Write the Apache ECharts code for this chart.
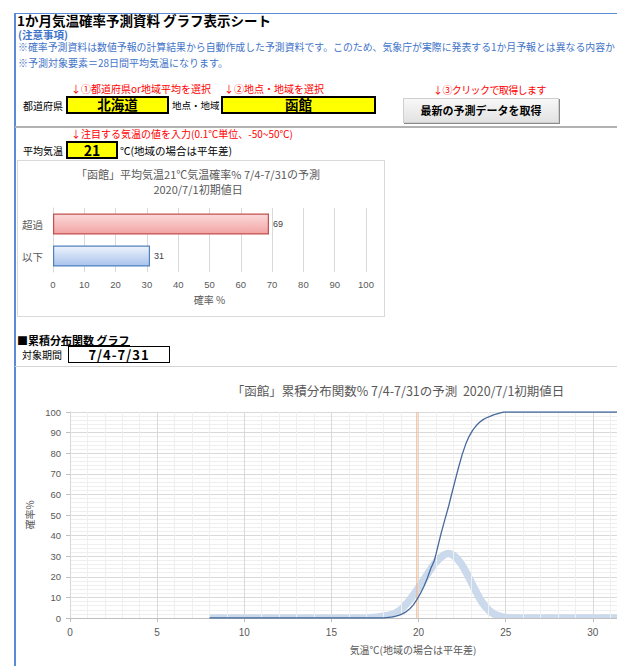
<!DOCTYPE html>
<html lang="ja">
<head>
<meta charset="utf-8">
<title>1か月気温確率予測資料 グラフ表示シート</title>
<script src="https://cdn.jsdelivr.net/npm/echarts@6/dist/echarts.min.js"></script>
<style>
  html, body { margin: 0; padding: 0; background: #fff; }
  #sheet { position: relative; width: 617px; height: 666px; overflow: hidden;
           font-family: "Noto Sans CJK JP", "Noto Sans", sans-serif; color: #000; }
  .t { position: absolute; white-space: nowrap; line-height: 1; transform: translateY(-50%); }
  .ln { position: absolute; }
  .ybox { position: absolute; box-sizing: border-box; background: #ffff00; border: 2px solid #000;
          display: flex; align-items: center; justify-content: center; font-weight: bold; line-height: 1; }
  .btn { position: absolute; box-sizing: border-box; display: flex; align-items: center; justify-content: center;
         background: linear-gradient(#f8f8f8, #e2e2e2); border: 1px solid #cfcfcf;
         box-shadow: 1px 1px 0 #8a8a8a; font-weight: bold; font-size: 11px; line-height: 1; }
  .blue { color: #3f74c8; }
  .red { color: #ff0000; font-size: 10px; }
  #barChart { position: absolute; left: 17px; top: 160px; width: 368px; height: 157px; }
  #barFrame { position: absolute; left: 17px; top: 160px; width: 368px; height: 157px;
              box-sizing: border-box; border: 1px solid #d9d9d9; pointer-events: none; }
  #cdfChart { position: absolute; left: 0; top: 370px; width: 617px; height: 296px; }
</style>
</head>
<body>
<div id="sheet">
  <!-- sheet frame -->
  <div class="ln" style="left:14px;top:13px;width:603px;height:1px;background:#5b8bd6"></div>
  <div class="ln" style="left:14px;top:13px;width:2px;height:653px;background:#5b8bd6"></div>

  <!-- header -->
  <div class="t" style="left:17px;top:21px;font-size:13.5px;font-weight:bold;">1か月気温確率予測資料 グラフ表示シート</div>
  <div class="t blue" style="left:18px;top:35px;font-size:10.5px;font-weight:bold;">(注意事項)</div>
  <div class="t blue" style="left:18px;top:48px;font-size:9.9px;">※確率予測資料は数値予報の計算結果から自動作成した予測資料です。このため、気象庁が実際に発表する1か月予報とは異なる内容か</div>
  <div class="t blue" style="left:18px;top:63px;font-size:10px;">※予測対象要素＝28日間平均気温になります。</div>

  <!-- selectors -->
  <div class="t red" style="left:71px;top:89px;">↓①都道府県or地域平均を選択</div>
  <div class="t red" style="left:224px;top:89px;">↓②地点・地域を選択</div>
  <div class="t red" style="left:433px;top:90px;letter-spacing:-0.6px;">↓③クリックで取得します</div>
  <div class="t" style="left:23px;top:106px;font-size:10px;">都道府県</div>
  <div class="ybox" style="left:66px;top:96px;width:103px;height:18px;font-size:13.5px;">北海道</div>
  <div class="t" style="left:172px;top:106px;font-size:9.5px;">地点・地域</div>
  <div class="ybox" style="left:221px;top:96px;width:155px;height:18px;font-size:13.5px;">函館</div>
  <div class="btn" style="left:403px;top:98px;width:156px;height:25px;">最新の予測データを取得</div>
  <div class="ln" style="left:15px;top:126px;width:602px;height:2px;background:#b2b2b2"></div>

  <!-- threshold input -->
  <div class="t red" style="left:71px;top:134px;">↓注目する気温の値を入力(0.1℃単位、-50~50℃)</div>
  <div class="t" style="left:23px;top:151px;font-size:10px;">平均気温</div>
  <div class="ybox" style="left:66px;top:141px;width:52px;height:18px;font-size:14px;">21</div>
  <div class="t" style="left:120px;top:151px;font-size:10.5px;">℃(地域の場合は平年差)</div>

  <!-- probability bar chart -->
  <div id="barChart"></div>
  <div id="barFrame"></div>

  <!-- cumulative distribution section -->
  <div class="t" style="left:17px;top:340px;font-size:11px;font-weight:bold;">■累積分布関数 グラフ</div>
  <div class="ln" style="left:61px;top:345px;width:69px;height:1px;background:#000"></div>
  <div class="t" style="left:22px;top:355px;font-size:10px;">対象期間</div>
  <div class="ybox" style="left:68px;top:346px;width:102px;height:17px;background:#fff;border:1px solid #000;font-size:13px;letter-spacing:1px;">7/4-7/31</div>
  <div class="ln" style="left:15px;top:366px;width:602px;height:1px;background:#d4d4d4"></div>

  <div id="cdfChart"></div>
</div>

<script>
// ---- probability of exceeding / not exceeding the chosen temperature ----
const barCategories = ['以下', '超過'];
const barValues = [31, 69];

// ---- cumulative distribution (%) of 28-day mean temperature ----
const cdfTemps = [8.0, 18.0, 18.3, 18.5, 18.7, 18.9, 19.1, 19.3, 19.5, 19.7, 19.9, 20.1, 20.3, 20.5, 20.7,
                  20.9, 21.0, 21.1, 21.3, 21.5, 21.7, 21.9, 22.1, 22.3, 22.5, 22.7, 22.9, 23.1, 23.3, 23.5,
                  23.7, 23.9, 24.1, 24.3, 24.5, 24.7, 24.9, 35.0];
const cdfProbs = [0, 0, 0.3, 0.5, 0.9, 1.4, 2.1, 3.1, 4.5, 6.4, 8.9, 11.8, 15.2, 19.3, 24.0,
                  27.8, 31.0, 34.5, 41.3, 47.5, 53.5, 60.2, 66.8, 73.3, 79.3, 84.3, 88.2, 91.1, 93.3, 95.0,
                  96.3, 97.2, 97.9, 98.6, 99.1, 99.6, 100, 100];

// ---- frequency distribution (%) drawn as the broad pale curve ----
const pdfTemps = [8.0, 17.0, 17.4, 17.8, 18.2, 18.6, 19.0, 19.4, 19.8, 20.2, 20.6, 21.0, 21.4, 21.7,
                  22.0, 22.4, 22.8, 23.2, 23.6, 24.0, 24.4, 24.8, 25.2, 25.6, 35.0];
const pdfProbs = [0, 0, 0.2, 0.6, 1.1, 2.1, 4.2, 7.8, 12.3, 17.2, 22.5, 27.2, 30.3, 31.3,
                  30.4, 26.9, 21.1, 14.4, 8.2, 4.0, 1.6, 0.5, 0.1, 0, 0];

// ---- vertical reference line ----
const refTemps = [19.9, 19.9];
const refProbs = [0, 100];

const pairs = (xs, ys) => xs.map((x, i) => [x, ys[i]]);
const numFont = '"Liberation Sans", "Noto Sans CJK JP", sans-serif';
const jpFont = '"Noto Sans CJK JP", sans-serif';
const grey = '#595959';

// ================= bar chart =================
const barChart = echarts.init(document.getElementById('barChart'), null, { renderer: 'svg' });
const barColors = [
  { fill: ['#eef3fc', '#a9c3ec'], border: '#4f81bd' },
  { fill: ['#fcdada', '#f2a3a3'], border: '#c0504d' }
];
barChart.setOption({
  animation: false,
  graphic: [
    { type: 'text', x: 181, y: 14, style: { text: '「函館」平均気温21℃気温確率% 7/4-7/31の予測', font: '11px ' + jpFont, fill: grey, align: 'center', verticalAlign: 'middle' } },
    { type: 'text', x: 181, y: 29, style: { text: '2020/7/1初期値日', font: '11px ' + jpFont, fill: grey, align: 'center', verticalAlign: 'middle' } }
  ],
  grid: { left: 36, right: 19, top: 48, bottom: 45, outerBoundsMode: 'none' },
  xAxis: {
    type: 'value', min: 0, max: 100, interval: 10,
    axisLine: { show: false }, axisTick: { show: false },
    axisLabel: { fontSize: 9.5, color: grey, margin: 8, fontFamily: numFont },
    splitLine: { lineStyle: { color: '#d9d9d9' } },
    name: '確率 %', nameLocation: 'middle', nameGap: 22,
    nameTextStyle: { fontSize: 10, color: grey, fontFamily: jpFont }
  },
  yAxis: {
    type: 'category', data: barCategories,
    axisLine: { show: true, lineStyle: { color: '#d9d9d9' } }, axisTick: { show: false },
    axisLabel: { fontSize: 10.5, color: grey, margin: 10, fontFamily: jpFont }
  },
  series: [{
    type: 'bar', barWidth: 21,
    data: barValues.map((v, i) => ({
      value: v,
      itemStyle: {
        color: { type: 'linear', x: 0, y: 0, x2: 0, y2: 1,
                 colorStops: [{ offset: 0, color: barColors[i].fill[0] }, { offset: 1, color: barColors[i].fill[1] }] },
        borderColor: barColors[i].border, borderWidth: 1.2
      }
    })),
    label: { show: true, position: 'right', distance: 4, fontSize: 9, color: '#404040', fontFamily: numFont }
  }]
});

// ================= cumulative distribution chart =================
const cdfChart = echarts.init(document.getElementById('cdfChart'), null, { renderer: 'svg' });
cdfChart.setOption({
  animation: false,
  graphic: [
    { type: 'text', x: 398, y: 20, style: { text: '「函館」累積分布関数% 7/4-7/31の予測  2020/7/1初期値日', font: '12.5px ' + jpFont, fill: grey, align: 'center', verticalAlign: 'middle' } },
    { type: 'text', x: 413, y: 279, style: { text: '気温℃(地域の場合は平年差)', font: '10px ' + jpFont, fill: grey, align: 'center', verticalAlign: 'middle' } },
    // masks the lower half of the broad curve where it runs along the zero line
    { type: 'rect', z: 5, shape: { x: 70, y: 248.5, width: 560, height: 5 }, style: { fill: '#fff' }, silent: true }
  ],
  grid: { left: 70, right: -63, top: 42, bottom: 48, outerBoundsMode: 'none' },
  xAxis: {
    type: 'value', min: 0, max: 35, interval: 5, z: 6,
    axisLine: { lineStyle: { color: '#bfbfbf' } },
    axisTick: { show: true, length: 4, lineStyle: { color: '#bfbfbf' } },
    axisLabel: { fontSize: 10, color: grey, margin: 9, fontFamily: numFont, showMaxLabel: false },
    splitLine: { lineStyle: { color: '#d9d9d9' } },
    minorTick: { show: false, splitNumber: 5 },
    minorSplitLine: { show: true, lineStyle: { color: '#efefef' } }
  },
  yAxis: {
    type: 'value', min: 0, max: 100, interval: 10,
    axisLine: { show: true, lineStyle: { color: '#bfbfbf' } },
    axisTick: { show: true, length: 4, lineStyle: { color: '#bfbfbf' } },
    axisLabel: { fontSize: 9.5, color: grey, margin: 9, fontFamily: numFont },
    splitLine: { lineStyle: { color: '#d9d9d9' } },
    minorTick: { show: false, splitNumber: 5 },
    minorSplitLine: { show: true, lineStyle: { color: '#efefef' } },
    name: '確率%', nameLocation: 'middle', nameGap: 32, nameRotate: 90,
    nameTextStyle: { fontSize: 10, color: grey, fontFamily: jpFont }
  },
  series: [
    { type: 'line', data: pairs(pdfTemps, pdfProbs), symbol: 'none', smooth: 0.3,
      lineStyle: { width: 7.5, color: '#cbd9ec' }, z: 2 },
    { type: 'line', data: pairs(refTemps, refProbs), symbol: 'none',
      lineStyle: { width: 1.1, color: '#f5b48a' }, z: 3 },
    { type: 'line', data: pairs(cdfTemps, cdfProbs), symbol: 'none',
      lineStyle: { width: 1.3, color: '#46699b' }, z: 7 }
  ]
});
</script>
</body>
</html>
